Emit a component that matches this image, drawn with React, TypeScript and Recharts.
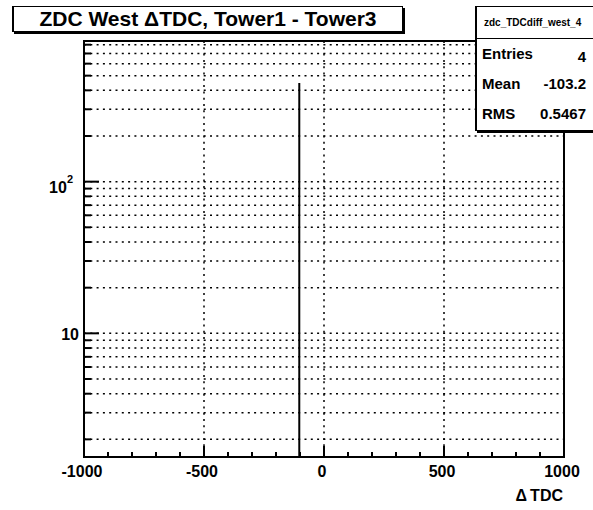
import React from 'react';
import {
  ComposedChart,
  Bar,
  XAxis,
  YAxis,
  CartesianGrid,
  ReferenceArea,
} from 'recharts';

// histogram content (only one filled bin)
const binCenters = [-103];
const binCounts = [448];

const xRange = [-1000, 1000];
const yRange = [1.53, 846];

const xTicks = [-1000, -900, -800, -700, -600, -500, -400, -300, -200, -100, 0, 100, 200, 300, 400, 500, 600, 700, 800, 900, 1000];
const xMajor = [-1000, -500, 0, 500, 1000];
const xGrid = [-500, 0, 500];

const yTicks = [2, 3, 4, 5, 6, 7, 8, 9, 10, 20, 30, 40, 50, 60, 70, 80, 90, 100, 200, 300, 400, 500, 600, 700, 800];
const yMajor = [10, 100];

const statLabels = ['Entries', 'Mean', 'RMS'];
const statValues = ['4', '-103.2', '0.5467'];

const histName = 'zdc_TDCdiff_west_4';
const title = 'ZDC West \u0394TDC, Tower1 - Tower3';
const xTitle = '\u0394\u2009TDC';

const FONT = '"Liberation Sans", Arial, Helvetica, sans-serif';

const data = binCenters.map((x, i) => ({ x, count: binCounts[i] }));

// eslint-disable-next-line @typescript-eslint/no-explicit-any
const XTick = (props: any) => {
  const { x, y, payload } = props;
  const major = xMajor.includes(payload.value);
  return (
    <g>
      <line x1={x} x2={x} y1={y} y2={y - (major ? 11 : 5)} stroke="#000" strokeWidth={2} />
      {major && (
        <text x={x - 2} y={y + 20} textAnchor="middle" fontSize={16} fontWeight="bold" fill="#000" fontFamily={FONT}>
          {payload.value}
        </text>
      )}
    </g>
  );
};

// eslint-disable-next-line @typescript-eslint/no-explicit-any
const YTick = (props: any) => {
  const { x, y, payload } = props;
  const v = payload.value as number;
  const major = yMajor.includes(v);
  let label: React.ReactNode = null;
  if (v === 10) {
    label = (
      <text x={x - 5} y={y + 7} textAnchor="end" fontSize={16} fontWeight="bold" fill="#000" fontFamily={FONT}>
        10
      </text>
    );
  } else if (v === 100) {
    label = (
      <text x={x - 11} y={y + 11} textAnchor="end" fontSize={16} fontWeight="bold" fill="#000" fontFamily={FONT}>
        10<tspan dy={-10} fontSize={11}>2</tspan>
      </text>
    );
  }
  return (
    <g>
      <line x1={x} x2={x + (major ? 15 : 7)} y1={y} y2={y} stroke="#000" strokeWidth={2} />
      {label}
    </g>
  );
};

const boxStyle: React.CSSProperties = {
  position: 'absolute',
  background: '#fff',
  border: '1px solid #000',
  borderLeftWidth: 2,
  boxShadow: '2px 2px 0 #000',
  boxSizing: 'border-box',
  fontFamily: FONT,
  fontWeight: 'bold',
  color: '#000',
};

export default function App() {
  return (
    <div style={{ position: 'absolute', left: 0, top: 0, width: 593, height: 510, background: '#fff', overflow: 'hidden' }}>
      <ComposedChart width={593} height={510} data={data} margin={{ top: 41, right: 29, bottom: 0, left: 0 }}>
        <CartesianGrid
          stroke="#000"
          strokeDasharray="2 4.3"
          strokeWidth={1.5}
          verticalValues={xGrid}
        />
        <XAxis
          dataKey="x"
          type="number"
          domain={xRange}
          ticks={xTicks}
          interval={0}
          height={53}
          axisLine={false}
          tickLine={false}
          tickSize={0}
          tickMargin={0}
          tick={<XTick />}
          allowDataOverflow
        />
        <YAxis
          type="number"
          scale="log"
          domain={yRange}
          ticks={yTicks}
          interval={0}
          width={84}
          axisLine={false}
          tickLine={false}
          tickSize={0}
          tickMargin={0}
          tick={<YTick />}
          allowDataOverflow
        />
        <Bar dataKey="count" fill="#000" barSize={2} isAnimationActive={false} />
        <ReferenceArea
          x1={xRange[0]}
          x2={xRange[1]}
          y1={yRange[0]}
          y2={yRange[1]}
          fill="none"
          fillOpacity={0}
          stroke="#000"
          strokeWidth={2}
          ifOverflow="visible"
        />
      </ComposedChart>

      {/* title pave */}
      <div style={{ ...boxStyle, left: 12, top: 6, width: 391, height: 26, fontSize: 21, lineHeight: '24px', textAlign: 'center' }}>
        {title}
      </div>

      {/* stats box */}
      <div style={{ ...boxStyle, left: 475, top: 6, width: 130, height: 125 }}>
        <div style={{ height: 31, borderBottom: '1px solid #000', fontSize: 10, lineHeight: '31px', paddingLeft: 7 }}>{histName}</div>
        {statLabels.map((s, i) => (
          <div key={s} style={{ position: 'relative', height: 30, fontSize: 15, lineHeight: '30px' }}>
            <span style={{ position: 'absolute', left: 5 }}>{s}</span>
            <span style={{ position: 'absolute', right: 130 - 112, top: i === 0 ? 3 : 0 }}>{statValues[i]}</span>
          </div>
        ))}
      </div>

      <div style={{ position: 'absolute', right: 593 - 563, top: 487, fontFamily: FONT, fontWeight: 'bold', fontSize: 16, color: '#000' }}>
        {xTitle}
      </div>
    </div>
  );
}
